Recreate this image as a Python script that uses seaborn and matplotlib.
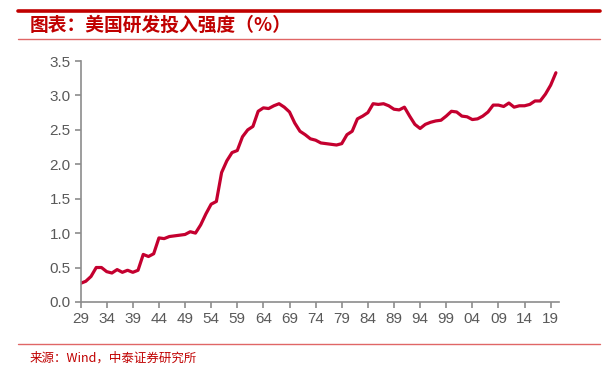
import matplotlib
matplotlib.use("Agg")
import matplotlib.pyplot as plt
import seaborn as sns
import pandas as pd
from matplotlib.lines import Line2D

years = list(range(1929, 2021))
intensity = [
    0.27, 0.30, 0.37, 0.50, 0.50, 0.44, 0.42, 0.47, 0.43, 0.46,  # 1929-1938
    0.43, 0.46, 0.69, 0.66, 0.70, 0.93, 0.92, 0.95, 0.96, 0.97,  # 1939-1948
    0.98, 1.02, 1.00, 1.12, 1.28, 1.42, 1.46, 1.88, 2.05, 2.17,  # 1949-1958
    2.20, 2.40, 2.50, 2.55, 2.77, 2.82, 2.81, 2.85, 2.88, 2.83,  # 1959-1968
    2.76, 2.60, 2.48, 2.43, 2.37, 2.35, 2.31, 2.30, 2.29, 2.28,  # 1969-1978
    2.30, 2.43, 2.48, 2.66, 2.70, 2.75, 2.88, 2.87, 2.88, 2.85,  # 1979-1988
    2.80, 2.79, 2.83, 2.70, 2.58, 2.52, 2.58, 2.61, 2.63, 2.64,  # 1989-1998
    2.70, 2.77, 2.76, 2.70, 2.69, 2.65, 2.66, 2.70, 2.76, 2.86,  # 1999-2008
    2.86, 2.84, 2.89, 2.83, 2.85, 2.85, 2.87, 2.92, 2.92, 3.02,  # 2009-2018
    3.15, 3.33,                                                  # 2019-2020
]
tick_years = list(range(1929, 2020, 5))
tick_labels = [f"{y % 100:02d}" for y in tick_years]
y_ticks = [0.0, 0.5, 1.0, 1.5, 2.0, 2.5, 3.0, 3.5]

title_text = "图表：美国研发投入强度（%）"
source_text = "来源：Wind，中泰证券研究所"

sns.set_theme(style="white")
plt.rcParams['font.family'] = ['Liberation Sans', 'Noto Sans CJK SC', 'DejaVu Sans']

df = pd.DataFrame({"year": years, "value": intensity})

fig = plt.figure(figsize=(6.15, 3.70), dpi=100)
ax = fig.add_axes([0.131, 0.184, 0.778, 0.651])

sns.lineplot(data=df, x="year", y="value", ax=ax, color="#C4002F",
             linewidth=2.3, solid_capstyle="round", solid_joinstyle="round")

ax.set_xlim(1929, 2020.6)
ax.set_ylim(0, 3.5)
ax.set_xticks(tick_years)
ax.set_xticklabels(tick_labels)
ax.set_yticks(y_ticks)
ax.set_yticklabels([f"{v:.1f}" for v in y_ticks])
ax.set_xlabel("")
ax.set_ylabel("")

for s in ["top", "right"]:
    ax.spines[s].set_visible(False)
for s in ["left", "bottom"]:
    ax.spines[s].set_color("#8C8C8C")
    ax.spines[s].set_linewidth(1.2)
ax.tick_params(axis="both", which="major", direction="out", length=4, width=1.2,
               color="#8C8C8C", labelcolor="#595959", labelsize=11, pad=3,
               left=True, bottom=True)
ax.grid(False)

# Title decoration
fig.add_artist(Line2D([18/615, 600/615], [1-10.5/370, 1-10.5/370], color="#C00000",
                      linewidth=2.6, transform=fig.transFigure))
fig.add_artist(Line2D([18/615, 600/615], [1-39/370, 1-39/370], color="#E06666",
                      linewidth=1.0, transform=fig.transFigure))
fig.text(30/615, 1-25/370, title_text, color="#C00000", fontsize=13.5,
         fontweight="bold", style="italic", va="center", ha="left",
         family=['Noto Sans CJK SC', 'DejaVu Sans'])

# Source decoration
fig.add_artist(Line2D([18/615, 600/615], [1-344/370, 1-344/370], color="#E06666",
                      linewidth=1.0, transform=fig.transFigure))
fig.text(30/615, 1-358/370, source_text, color="#C00000", fontsize=9,
         va="center", ha="left", family=['Noto Sans CJK SC', 'DejaVu Sans'])

fig.savefig("out.png", dpi=100)
